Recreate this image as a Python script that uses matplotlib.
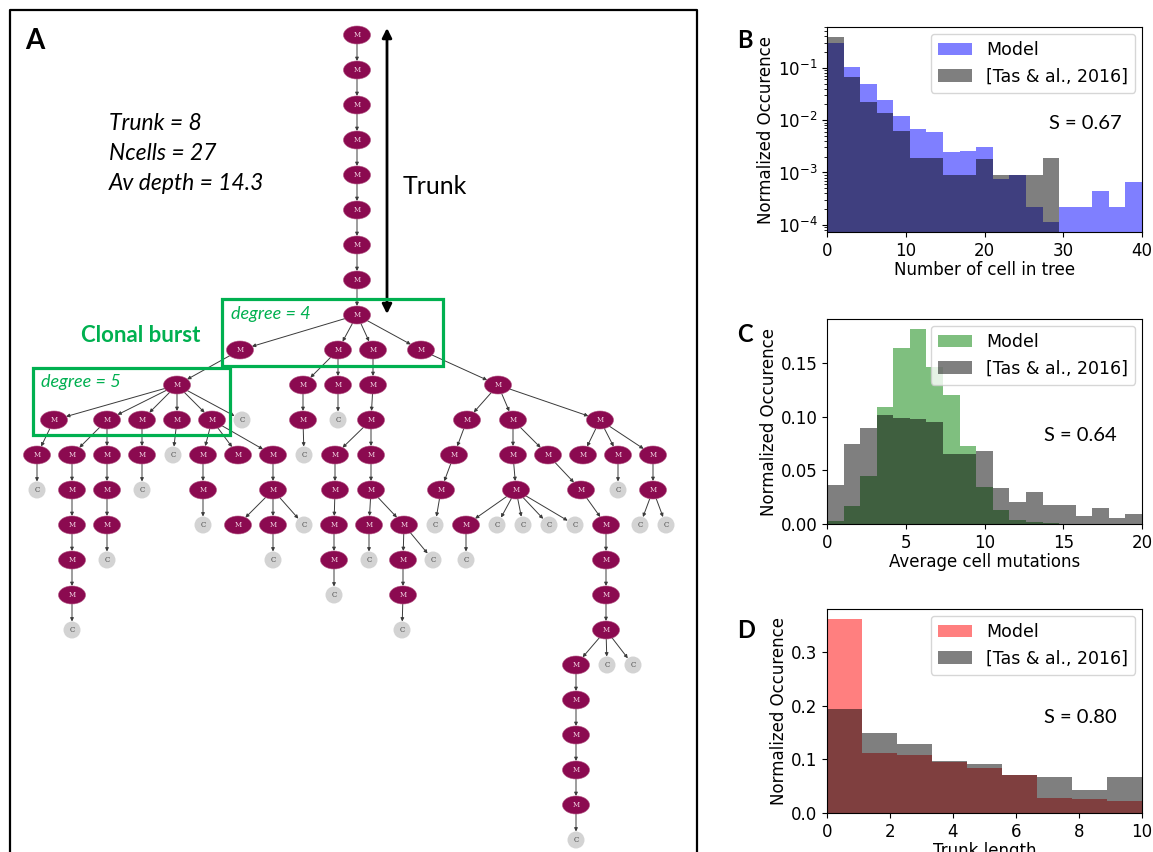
import numpy as np
import matplotlib
matplotlib.use("Agg")
import matplotlib.pyplot as plt
from matplotlib.patches import Ellipse, Rectangle, FancyArrowPatch

plt.rcParams["font.family"] = ["DejaVu Sans"]

# ---- panel A : the lineage tree (x in px, row = generation) ----
node_x = [357, 357, 357, 357, 357, 357, 357, 357, 357,
          240, 338, 373, 421,
          177, 303, 338, 373, 498,
          54, 107, 142, 177, 212, 242, 303, 338, 371, 467, 513, 600,
          37, 72, 107, 142, 173, 203, 238, 273, 304, 335, 371, 454, 513, 548, 583, 618, 653,
          37, 72, 107, 142, 203, 273, 335, 371, 441, 516, 581, 618, 653,
          72, 107, 203, 238, 273, 304, 334, 369, 404, 435, 466, 497, 523, 549, 575, 606, 640, 666,
          72, 107, 273, 334, 369, 403, 433, 466, 606,
          72, 334, 403, 606,
          72, 402, 606,
          576, 607, 633,
          576, 576, 576, 576, 576]
node_row = [0, 1, 2, 3, 4, 5, 6, 7, 8,
            9, 9, 9, 9,
            10, 10, 10, 10, 10,
            11, 11, 11, 11, 11, 11, 11, 11, 11, 11, 11, 11,
            12, 12, 12, 12, 12, 12, 12, 12, 12, 12, 12, 12, 12, 12, 12, 12, 12,
            13, 13, 13, 13, 13, 13, 13, 13, 13, 13, 13, 13, 13,
            14, 14, 14, 14, 14, 14, 14, 14, 14, 14, 14, 14, 14, 14, 14, 14, 14, 14,
            15, 15, 15, 15, 15, 15, 15, 15, 15,
            16, 16, 16, 16,
            17, 17, 17,
            18, 18, 18,
            19, 20, 21, 22, 23]
node_type = ("MMMMMMMMM" "MMMM" "MMMMM" "MMMMMCMCMMMM" "MMMMCMMMCMMMMMMMM"
             "CMMCMMMMMMMCM" "MMCMMCMMMCMCCCCMCC" "MCCMCMCCM" "MCMM" "CCM" "MCC" "MMMMC")
node_parent = [-1, 0, 1, 2, 3, 4, 5, 6, 7,
               8, 8, 8, 8,
               9, 10, 10, 11, 12,
               13, 13, 13, 13, 13, 13, 14, 15, 16, 17, 17, 17,
               18, 19, 19, 20, 21, 22, 22, 22, 24, 26, 26, 27, 28, 28, 29, 29, 29,
               30, 31, 32, 33, 35, 37, 39, 40, 41, 42, 43, 45, 46,
               48, 49, 51, 52, 52, 52, 53, 54, 54, 55, 56, 56, 56, 56, 56, 57, 59, 59,
               60, 61, 64, 66, 67, 68, 68, 70, 75,
               78, 81, 83, 86,
               87, 89, 90,
               93, 93, 93,
               94, 97, 98, 99, 100]

tree_stats = ["Trunk = 8", "Ncells = 27", "Av depth = 14.3"]

# ---- panels B-D : histograms ----
b_edges = np.linspace(0, 40, 20)
b_model = [0.291, 0.104, 0.0489, 0.0242, 0.01216, 0.00676, 0.00593, 0.0025, 0.00261, 0.00307,
           0.000763, 0.00088, 0.000223, 0.000112, 0.000223, 0.000223, 0.000445, 0.000223, 0.00067]
b_tas = [0.39, 0.0673, 0.0218, 0.01346, 0.0062, 0.00187, 0.00187, 0.000897, 0.000897, 0.00181,
         0.000897, 0.000897, 0.000897, 0.00187, 0, 0, 0, 0, 0]

c_edges = np.linspace(0, 20, 20)
c_model = [0.003, 0.0172, 0.0444, 0.109, 0.164, 0.182, 0.1466, 0.120, 0.0731, 0.0341,
           0.0131, 0.00375, 0.0022, 0.0005, 0, 0, 0, 0, 0]
c_tas = [0.0366, 0.0747, 0.0897, 0.102, 0.099, 0.0975, 0.0953, 0.0653, 0.0653, 0.0684,
         0.0331, 0.0203, 0.0297, 0.0178, 0.0178, 0.0078, 0.0147, 0.0059, 0.0094]

d_edges = np.linspace(0, 10, 10)
d_model = [0.3615, 0.1118, 0.1087, 0.095, 0.0839, 0.0702, 0.028, 0.0267, 0.023]
d_tas = [0.194, 0.149, 0.1286, 0.0975, 0.0913, 0.0702, 0.0665, 0.0435, 0.0665]

scores = ["S = 0.67", "S = 0.64", "S = 0.80"]

green = "#00B050"
m_col = "#8B0A50"
c_col = "#D3D3D3"

fig = plt.figure(figsize=(11.53, 8.52), dpi=100)

# full figure overlay in pixel units for panel A
ax = fig.add_axes([0, 0, 1, 1])
ax.set_xlim(0, 1153)
ax.set_ylim(852, 0)
ax.axis("off")

row_gap = 35
def ypos(r):
    return 35 + row_gap * r

def radius(kind, ux, uy):
    a, b = (13, 9) if kind == "M" else (8.5, 8.5)
    return 1.0 / np.sqrt((ux / a) ** 2 + (uy / b) ** 2)

# edges
for i, p in enumerate(node_parent):
    if p < 0:
        continue
    x0, y0 = node_x[p], ypos(node_row[p])
    x1, y1 = node_x[i], ypos(node_row[i])
    dx, dy = x1 - x0, y1 - y0
    L = np.hypot(dx, dy)
    ux, uy = dx / L, dy / L
    r0 = radius(node_type[p], ux, uy)
    r1 = radius(node_type[i], ux, uy)
    arr = FancyArrowPatch((x0 + ux * r0, y0 + uy * r0), (x1 - ux * r1, y1 - uy * r1),
                          arrowstyle="-|>", mutation_scale=5, lw=0.7,
                          color="#3a3a3a", shrinkA=0, shrinkB=0, zorder=2)
    ax.add_patch(arr)

# nodes
for x, r, t in zip(node_x, node_row, node_type):
    if t == "M":
        ax.add_patch(Ellipse((x, ypos(r)), 27, 18, facecolor=m_col, edgecolor="#b0507f",
                             lw=0.4, zorder=3))
        ax.text(x, ypos(r), "M", ha="center", va="center", fontsize=5,
                family="DejaVu Serif", color="#f3d6e4", zorder=4)
    else:
        ax.add_patch(Ellipse((x, ypos(r)), 17, 17, facecolor=c_col, edgecolor="none", zorder=3))
        ax.text(x, ypos(r), "C", ha="center", va="center", fontsize=5,
                family="DejaVu Serif", color="#444444", zorder=4)

# panel frame
ax.plot([10, 10, 697, 697], [900, 10, 10, 900], color="black", lw=1.6, clip_on=False)

# green boxes
ax.add_patch(Rectangle((222, 299), 221, 67, fill=False, edgecolor=green, lw=2.3, zorder=5))
ax.add_patch(Rectangle((33, 368), 197, 67, fill=False, edgecolor=green, lw=2.3, zorder=5))
ax.text(231, 314, "degree = 4", color=green, fontsize=13, style="italic",
        family="Lato", va="center", ha="left")
ax.text(41, 382, "degree = 5", color=green, fontsize=13, style="italic",
        family="Lato", va="center", ha="left")
ax.text(141, 336, "Clonal burst", color=green, fontsize=16, weight="bold",
        family="Lato", va="center", ha="center")

# trunk arrow
ax.annotate("", xy=(387, 28), xytext=(387, 314),
            arrowprops=dict(arrowstyle="<|-|>", color="black", lw=2, mutation_scale=14,
                            shrinkA=0, shrinkB=0))
ax.text(403, 186, "Trunk", fontsize=18, family="Lato", va="center", ha="left")

for k, s in enumerate(tree_stats):
    ax.text(109, 124 + 30 * k, s, fontsize=16.5, style="italic", family="Lato",
            va="center", ha="left")

ax.text(25, 41, "A", fontsize=20, weight="bold", family="Lato", va="center", ha="left")

# histogram panels
W, H = 1153.0, 852.0
panels = [
    (27, 232, b_edges, b_model, b_tas, "blue", "Number of cell in tree", "B", 40, True),
    (319, 524, c_edges, c_model, c_tas, "green", "Average cell mutations", "C", 335, False),
    (609, 813, d_edges, d_model, d_tas, "red", "Trunk length", "D", 630, False),
]
s_pos = [(0.82, 0.527), (0.803, 0.434), (0.803, 0.47)]

for (top, bot, edges, model, tas, col, xlabel, letter, ly, logy), s, sp in zip(panels, scores, s_pos):
    hax = fig.add_axes([827 / W, 1 - bot / H, 315 / W, (bot - top) / H])
    hax.hist(edges[:-1], bins=edges, weights=model, histtype="stepfilled",
             color=col, alpha=0.5, label="Model", log=logy)
    hax.hist(edges[:-1], bins=edges, weights=tas, histtype="stepfilled",
             color="black", alpha=0.5, label="[Tas & al., 2016]", log=logy)
    hax.set_xlim(edges[0], edges[-1])
    if logy:
        hax.set_ylim(7.3e-5, 0.6)
    else:
        hax.set_ylim(0, max(max(model), max(tas)) * 1.05)
    hax.set_xlabel(xlabel, fontsize=12, labelpad=1)
    hax.set_ylabel("Normalized Occurence", fontsize=12, labelpad=2)
    hax.tick_params(labelsize=12)
    hax.legend(loc="upper right", fontsize=12.5, borderaxespad=0.4)
    hax.text(sp[0], sp[1], s, transform=hax.transAxes, fontsize=14.5, family="Lato",
             ha="center", va="center")
    ax.text(737, ly, letter, fontsize=17, weight="bold", family="Lato",
            va="center", ha="left")

fig.savefig("out.png", dpi=100)
